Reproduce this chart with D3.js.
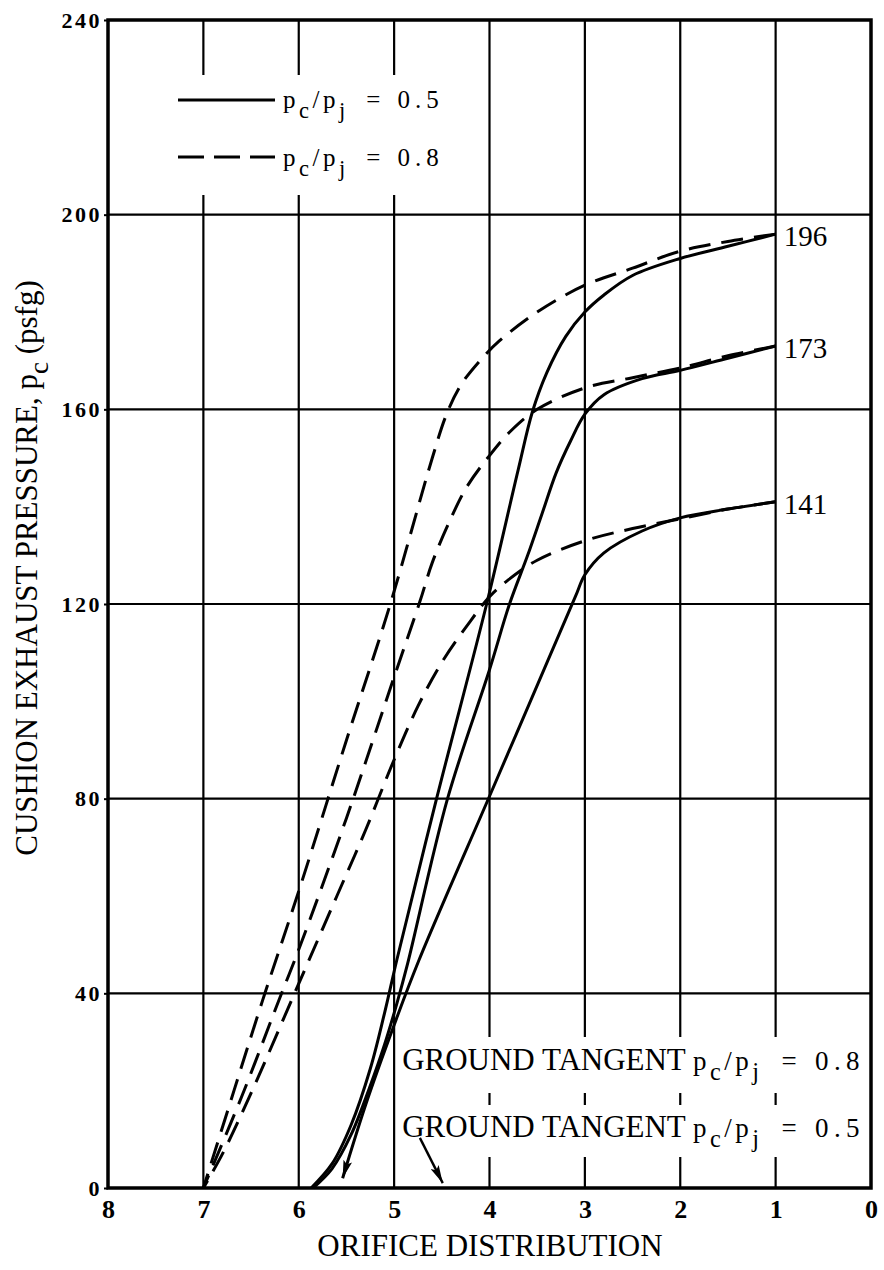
<!DOCTYPE html>
<html>
<head>
<meta charset="utf-8">
<script src="https://cdn.jsdelivr.net/npm/d3@7/dist/d3.min.js"></script>
<style>
body { margin: 0; background: #fff; }
svg { display: block; background: #fff; }
text { font-family: "Liberation Serif", serif; fill: #000; }
</style>
</head>
<body>
<div id="chart"></div>
<script>
// orifice distribution (x) runs backwards, 8 -> 0
var xTicks = [8, 7, 6, 5, 4, 3, 2, 1, 0];
var yTicks = [0, 40, 80, 120, 160, 200, 240];
var endValues = [196, 173, 141];

// p_c/p_j = 0.5 (solid)
var solid196 = [[1, 196], [1.5, 193.5], [2, 191], [2.5, 187.5], [2.8, 183.5], [3, 180], [3.2, 175],
  [3.4, 167.5], [3.55, 159.5], [3.7, 147.5], [4.03, 120], [4.555, 80], [4.97, 47], [5.1, 36],
  [5.25, 24.5], [5.45, 13], [5.65, 5], [5.87, 0]];
var solid173 = [[1, 173], [1.5, 170.5], [2, 168], [2.4, 166.3], [2.8, 163], [3, 159], [3.15, 153.5],
  [3.3, 147], [3.45, 138.5], [3.6, 130], [3.79, 120], [4.0, 106.5], [4.44, 80], [4.86, 46],
  [4.97, 38], [5.1, 29.5], [5.26, 20.5], [5.45, 11], [5.65, 4], [5.85, 0]];
var solid141 = [[1, 141], [1.5, 139.5], [2, 137.7], [2.4, 135], [2.8, 130.5], [3, 126], [3.1, 121.5],
  [3.565, 100.3], [4, 80.5], [4.74, 46.8], [5, 33.5], [5.3, 17], [5.54, 2]];

// p_c/p_j = 0.8 (dashed)
var dashed196 = [[1, 196], [1.5, 194.5], [2, 192.5], [2.5, 189], [3, 185.5], [3.5, 180], [3.9, 174],
  [4.1, 170], [4.3, 165], [4.45, 159], [4.6, 150], [5.04, 120], [5.5, 92], [6, 61], [6.38, 38.5],
  [6.7, 18.7], [7, 0]];
var dashed173 = [[1, 173], [1.5, 171], [2, 168.5], [2.5, 166.5], [3, 164.4], [3.5, 160], [3.78, 155.5],
  [4, 150.5], [4.24, 144], [4.43, 136.5], [4.6, 128.5], [4.73, 120.5], [5, 105], [5.5, 76],
  [6, 49], [6.2, 39], [6.6, 18.7], [7, 0]];
var dashed141 = [[1, 141], [1.5, 139.5], [2, 137.5], [2.5, 135.5], [3, 133], [3.5, 129], [3.8, 125],
  [4, 121.5], [4.2, 116.5], [4.5, 108], [4.75, 99], [5, 88], [5.3, 73.5], [5.6, 60], [6, 42],
  [6.5, 19.5], [6.8, 7], [7, 0]];

// leader arrow of the second ground tangent note
var tangentArrow = [[4.73, 10.3], [4.49, 1.0]];

var width = 884, height = 1270;

var svg = d3.select('#chart').append('svg')
  .attr('width', width)
  .attr('height', height);

var x = d3.scaleLinear().domain([8, 0]).range([108, 871]);
var y = d3.scaleLinear().domain([0, 240]).range([1188, 20]);

svg.append('defs').append('marker')
  .attr('id', 'arrow')
  .attr('viewBox', '0 0 20 10')
  .attr('refX', 20).attr('refY', 5)
  .attr('markerWidth', 20).attr('markerHeight', 9)
  .attr('markerUnits', 'userSpaceOnUse')
  .attr('orient', 'auto')
  .append('path')
  .attr('d', 'M0,0 L20,5 L0,10 L4,5 Z')
  .attr('fill', '#000');

// grid
var grid = svg.append('g');
grid.selectAll('line.v').data(xTicks.slice(1, -1)).enter().append('line')
  .attr('x1', function(d) { return x(d); }).attr('x2', function(d) { return x(d); })
  .attr('y1', y(240)).attr('y2', y(0))
  .attr('stroke', '#000').attr('stroke-width', 2.2);
grid.selectAll('line.h').data(yTicks.slice(1, -1)).enter().append('line')
  .attr('x1', x(8)).attr('x2', x(0))
  .attr('y1', function(d) { return y(d); }).attr('y2', function(d) { return y(d); })
  .attr('stroke', '#000').attr('stroke-width', 2.2);

// white patches that break the grid under the notes
svg.append('rect').attr('x', x(8) + 3).attr('y', 75).attr('width', 360).attr('height', 120).attr('fill', '#fff');
svg.append('rect').attr('x', x(5) + 4).attr('y', 1037).attr('width', x(0) - x(5) - 6).attr('height', 56).attr('fill', '#fff');
svg.append('rect').attr('x', x(5) + 4).attr('y', 1105).attr('width', x(0) - x(5) - 6).attr('height', 52).attr('fill', '#fff');

// axes
var yAxis = d3.axisLeft(y).tickValues(yTicks).tickSize(4).tickSizeOuter(0).tickPadding(2);
var xAxis = d3.axisBottom(x).tickValues(xTicks).tickSize(0).tickSizeOuter(0).tickPadding(12);

var gy = svg.append('g').attr('transform', 'translate(' + x(8) + ',0)').call(yAxis);
gy.select('.domain').remove();
gy.selectAll('line').attr('stroke-width', 2);
gy.selectAll('text')
  .style('font-family', '"Liberation Serif", serif')
  .style('font-weight', 'bold')
  .style('font-size', '22px')
  .style('letter-spacing', '2.5px')
  .attr('fill', '#000');

var gx = svg.append('g').attr('transform', 'translate(0,' + y(0) + ')').call(xAxis);
gx.select('.domain').remove();
gx.selectAll('text')
  .style('font-family', '"Liberation Serif", serif')
  .style('font-weight', 'bold')
  .style('font-size', '26px')
  .attr('fill', '#000');

svg.append('rect')
  .attr('x', x(8)).attr('y', y(240))
  .attr('width', x(0) - x(8)).attr('height', y(0) - y(240))
  .attr('fill', 'none').attr('stroke', '#000').attr('stroke-width', 3.5);

// curves
var line = d3.line()
  .x(function(d) { return x(d[0]); })
  .y(function(d) { return y(d[1]); })
  .curve(d3.curveCatmullRom.alpha(0.5));

var curves = svg.append('g').attr('fill', 'none').attr('stroke', '#000').attr('stroke-width', 3);
[solid196, solid173].forEach(function(s) {
  curves.append('path').attr('d', line(s));
});
curves.append('path').attr('d', line(solid141)).attr('marker-end', 'url(#arrow)');
[dashed196, dashed173, dashed141].forEach(function(s) {
  curves.append('path').attr('d', line(s)).attr('stroke-dasharray', '22,11');
});
curves.append('path')
  .attr('d', d3.line().x(function(d) { return x(d[0]); }).y(function(d) { return y(d[1]); })(tangentArrow))
  .attr('stroke-width', 2.4)
  .attr('marker-end', 'url(#arrow)');

// end values
svg.selectAll('text.end').data(endValues).enter().append('text')
  .attr('x', x(1) + 8)
  .attr('y', function(d) { return y(d) + 12; })
  .style('font-size', '29px')
  .text(function(d) { return d; });

// p_c/p_j = value
function ratio(text, value, size) {
  var t = text.append('tspan')
    .style('font-size', size + 'px')
    .style('letter-spacing', '3.5px');
  var sub = Math.round(size * 0.38);
  t.append('tspan').text('p');
  t.append('tspan').attr('dy', sub).style('font-size', (size * 0.9) + 'px').text('c');
  t.append('tspan').attr('dy', -sub).text('/p');
  t.append('tspan').attr('dy', sub).style('font-size', (size * 0.9) + 'px').text('j');
  t.append('tspan').attr('dy', -sub).attr('dx', size * 0.7).text('=');
  t.append('tspan').attr('dx', size * 0.55).style('letter-spacing', (size * 0.2) + 'px').text(value);
}

// legend
var legend = svg.append('g');
legend.append('line').attr('x1', 178).attr('x2', 275).attr('y1', 100).attr('y2', 100)
  .attr('stroke', '#000').attr('stroke-width', 3.2);
legend.append('line').attr('x1', 178).attr('x2', 275).attr('y1', 157).attr('y2', 157)
  .attr('stroke', '#000').attr('stroke-width', 3.2).attr('stroke-dasharray', '26,10');
ratio(legend.append('text').attr('x', 283).attr('y', 108), '0.5', 25);
ratio(legend.append('text').attr('x', 283).attr('y', 166), '0.8', 25);

// ground tangent notes
[['0.8', 1070], ['0.5', 1137]].forEach(function(n) {
  var t = svg.append('text').attr('x', x(5) + 8).attr('y', n[1]);
  t.append('tspan')
    .style('font-size', '31px')
    .text('GROUND TANGENT ');
  ratio(t, n[0], 27);
});

// axis titles
var yt = svg.append('text')
  .attr('transform', 'translate(37,568) rotate(-90)')
  .attr('text-anchor', 'middle')
  .style('font-size', '31px');
yt.append('tspan').text('CUSHION EXHAUST PRESSURE, p');
yt.append('tspan').attr('dy', 11).style('font-size', '27px').text('c');
yt.append('tspan').attr('dy', -11).text(' (psfg)');

svg.append('text')
  .attr('x', 490).attr('y', 1256)
  .attr('text-anchor', 'middle')
  .style('font-size', '31px')
  .text('ORIFICE DISTRIBUTION');
</script>
</body>
</html>
